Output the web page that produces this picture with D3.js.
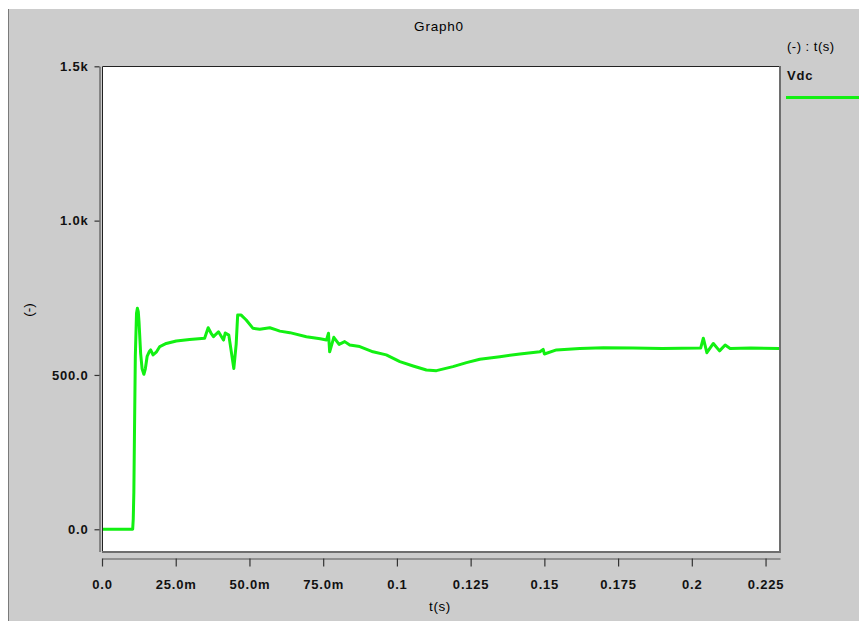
<!DOCTYPE html>
<html>
<head>
<meta charset="utf-8">
<script src="https://cdn.jsdelivr.net/npm/d3@7"></script>
<style>
  html, body { margin: 0; padding: 0; background: #fff; }
  svg { display: block; font-family: "Liberation Sans", Arial, sans-serif; }
  .tick text { font-size: 13px; font-weight: bold; fill: #111; letter-spacing: 0.8px; }
</style>
</head>
<body>
<svg id="chart" width="859" height="621"></svg>
<script>
// ── Data ──────────────────────────────────────────────────────────────────
const title = 'Graph0';
const seriesName = 'Vdc';
const xLabel = 't(s)';
const yLabel = '(-)';
const legendHeader = '(-) : t(s)';

const xTicks = [0, 0.025, 0.05, 0.075, 0.1, 0.125, 0.15, 0.175, 0.2, 0.225];
const xTickLabels = ['0.0', '25.0m', '50.0m', '75.0m', '0.1', '0.125', '0.15', '0.175', '0.2', '0.225'];
const yTicks = [0, 500, 1000, 1500];
const yTickLabels = ['0.0', '500.0', '1.0k', '1.5k'];

// time (s)
const tData = [
  0, 0.0104, 0.0106, 0.0108, 0.0110, 0.0113, 0.0117, 0.0120, 0.0123, 0.01255,
  0.0131, 0.0136, 0.0142, 0.0147, 0.0153, 0.0160, 0.0165, 0.0173, 0.0185, 0.0196,
  0.0218, 0.0252, 0.0297, 0.0348, 0.0360, 0.0370, 0.0378, 0.0395, 0.0412, 0.0418,
  0.0430, 0.0447, 0.0455, 0.0460, 0.0472, 0.0489, 0.0512, 0.0535, 0.0569, 0.0591,
  0.0603, 0.0637, 0.0693, 0.0740, 0.0761, 0.0768, 0.0772, 0.0786, 0.0804, 0.0823,
  0.0840, 0.0874, 0.0919, 0.0964, 0.1010, 0.1055, 0.1100, 0.1134, 0.1190, 0.1236,
  0.1281, 0.1349, 0.1417, 0.1485, 0.1496, 0.1500, 0.1541, 0.1620, 0.1700, 0.1800,
  0.1900, 0.2030, 0.2039, 0.2051, 0.2073, 0.2094, 0.2113, 0.2130, 0.2200, 0.2299
];
// Vdc (V)
const vdcData = [
  0, 0, 34, 120, 300, 560, 700, 716, 705, 672,
  570, 520, 502, 520, 560, 575, 581, 565, 575, 592,
  602, 610, 615, 619, 653, 635, 624, 640, 613, 636,
  629, 521, 600, 694, 694, 678, 651, 648, 653, 646,
  642, 637, 624, 617, 613, 635, 575, 622, 599, 608,
  597, 592, 575, 565, 543, 529, 516, 514, 527, 540,
  551, 559, 568, 575, 583, 568, 581, 586, 588, 587,
  586, 587, 619, 572, 602, 578, 597, 586, 587, 586
];

// ── Layout ────────────────────────────────────────────────────────────────
const svg = d3.select('#chart');
const plot = { left: 102, right: 780, top: 66, bottom: 552 };
const green = '#12f012';

const x = d3.scaleLinear().domain([0, 0.2299]).range([plot.left, plot.right]);
const y = d3.scaleLinear().domain([-72, 1500]).range([551.5, 66.3]);

// gray panel
svg.append('rect').attr('x', 8).attr('y', 9).attr('width', 851).attr('height', 612).attr('fill', '#cccccc');
svg.append('line').attr('x1', 8.5).attr('x2', 8.5).attr('y1', 9).attr('y2', 621).attr('stroke', '#7a7a7a');

// plot area
svg.append('rect')
  .attr('x', plot.left).attr('y', plot.top)
  .attr('width', plot.right - plot.left).attr('height', plot.bottom - plot.top)
  .attr('fill', '#fff');
// inset border: dark top/left, gray right/bottom
svg.append('path')
  .attr('d', `M${plot.left + 0.5},${plot.bottom}V${plot.top + 0.5}H${plot.right}`)
  .attr('fill', 'none').attr('stroke', '#222').attr('stroke-width', 1);
svg.append('path')
  .attr('d', `M${plot.left},${plot.bottom}H${plot.right}V${plot.top}`)
  .attr('fill', 'none').attr('stroke', '#6e6e6e').attr('stroke-width', 2);

svg.append('defs').append('clipPath').attr('id', 'clip')
  .append('rect').attr('x', plot.left + 1).attr('y', plot.top + 1)
  .attr('width', plot.right - plot.left - 2).attr('height', plot.bottom - plot.top - 2);

// ── Axes ──────────────────────────────────────────────────────────────────
const xAxis = d3.axisBottom(x)
  .tickValues(xTicks)
  .tickFormat((d, i) => xTickLabels[i])
  .tickSize(8).tickSizeOuter(0).tickPadding(13);
const gx = svg.append('g').attr('transform', 'translate(0,558.5)').call(xAxis);

const yAxis = d3.axisLeft(y)
  .tickValues(yTicks)
  .tickFormat((d, i) => yTickLabels[i])
  .tickSize(5).tickSizeOuter(0).tickPadding(6);
const gy = svg.append('g').attr('transform', 'translate(99.5,0)').call(yAxis);

[gx, gy].forEach(g => {
  g.select('.domain').attr('stroke', '#555').attr('stroke-width', 1.2);
  g.selectAll('.tick line').attr('stroke', '#333').attr('stroke-width', 1.2);
  g.selectAll('.tick text').attr('fill', '#111');
});

// ── Series ────────────────────────────────────────────────────────────────
const points = tData.map((t, i) => [t, vdcData[i]]);
const line = d3.line().x(d => x(d[0])).y(d => y(d[1]));

svg.append('path')
  .datum(points)
  .attr('clip-path', 'url(#clip)')
  .attr('fill', 'none')
  .attr('stroke', green)
  .attr('stroke-width', 3)
  .attr('stroke-linejoin', 'round')
  .attr('d', line);

// ── Texts ─────────────────────────────────────────────────────────────────
svg.append('text')
  .attr('x', 439).attr('y', 31)
  .attr('text-anchor', 'middle')
  .attr('font-size', 13.5).attr('letter-spacing', 0.8).attr('fill', '#000')
  .text(title);

svg.append('text')
  .attr('x', 440).attr('y', 611)
  .attr('text-anchor', 'middle')
  .attr('font-size', 13.5).attr('letter-spacing', 0.6).attr('fill', '#000')
  .text(xLabel);

svg.append('text')
  .attr('transform', 'translate(33,310) rotate(-90)')
  .attr('text-anchor', 'middle')
  .attr('font-size', 13.5).attr('fill', '#000')
  .text(yLabel);

// legend
svg.append('text')
  .attr('x', 787).attr('y', 51)
  .attr('font-size', 13).attr('letter-spacing', 0.5).attr('fill', '#000')
  .text(legendHeader);
svg.append('text')
  .attr('x', 787).attr('y', 80)
  .attr('font-size', 13).attr('font-weight', 'bold').attr('letter-spacing', 0.8).attr('fill', '#111')
  .text(seriesName);
svg.append('line')
  .attr('x1', 786).attr('x2', 859).attr('y1', 97.5).attr('y2', 97.5)
  .attr('stroke', green).attr('stroke-width', 3);
</script>
</body>
</html>
